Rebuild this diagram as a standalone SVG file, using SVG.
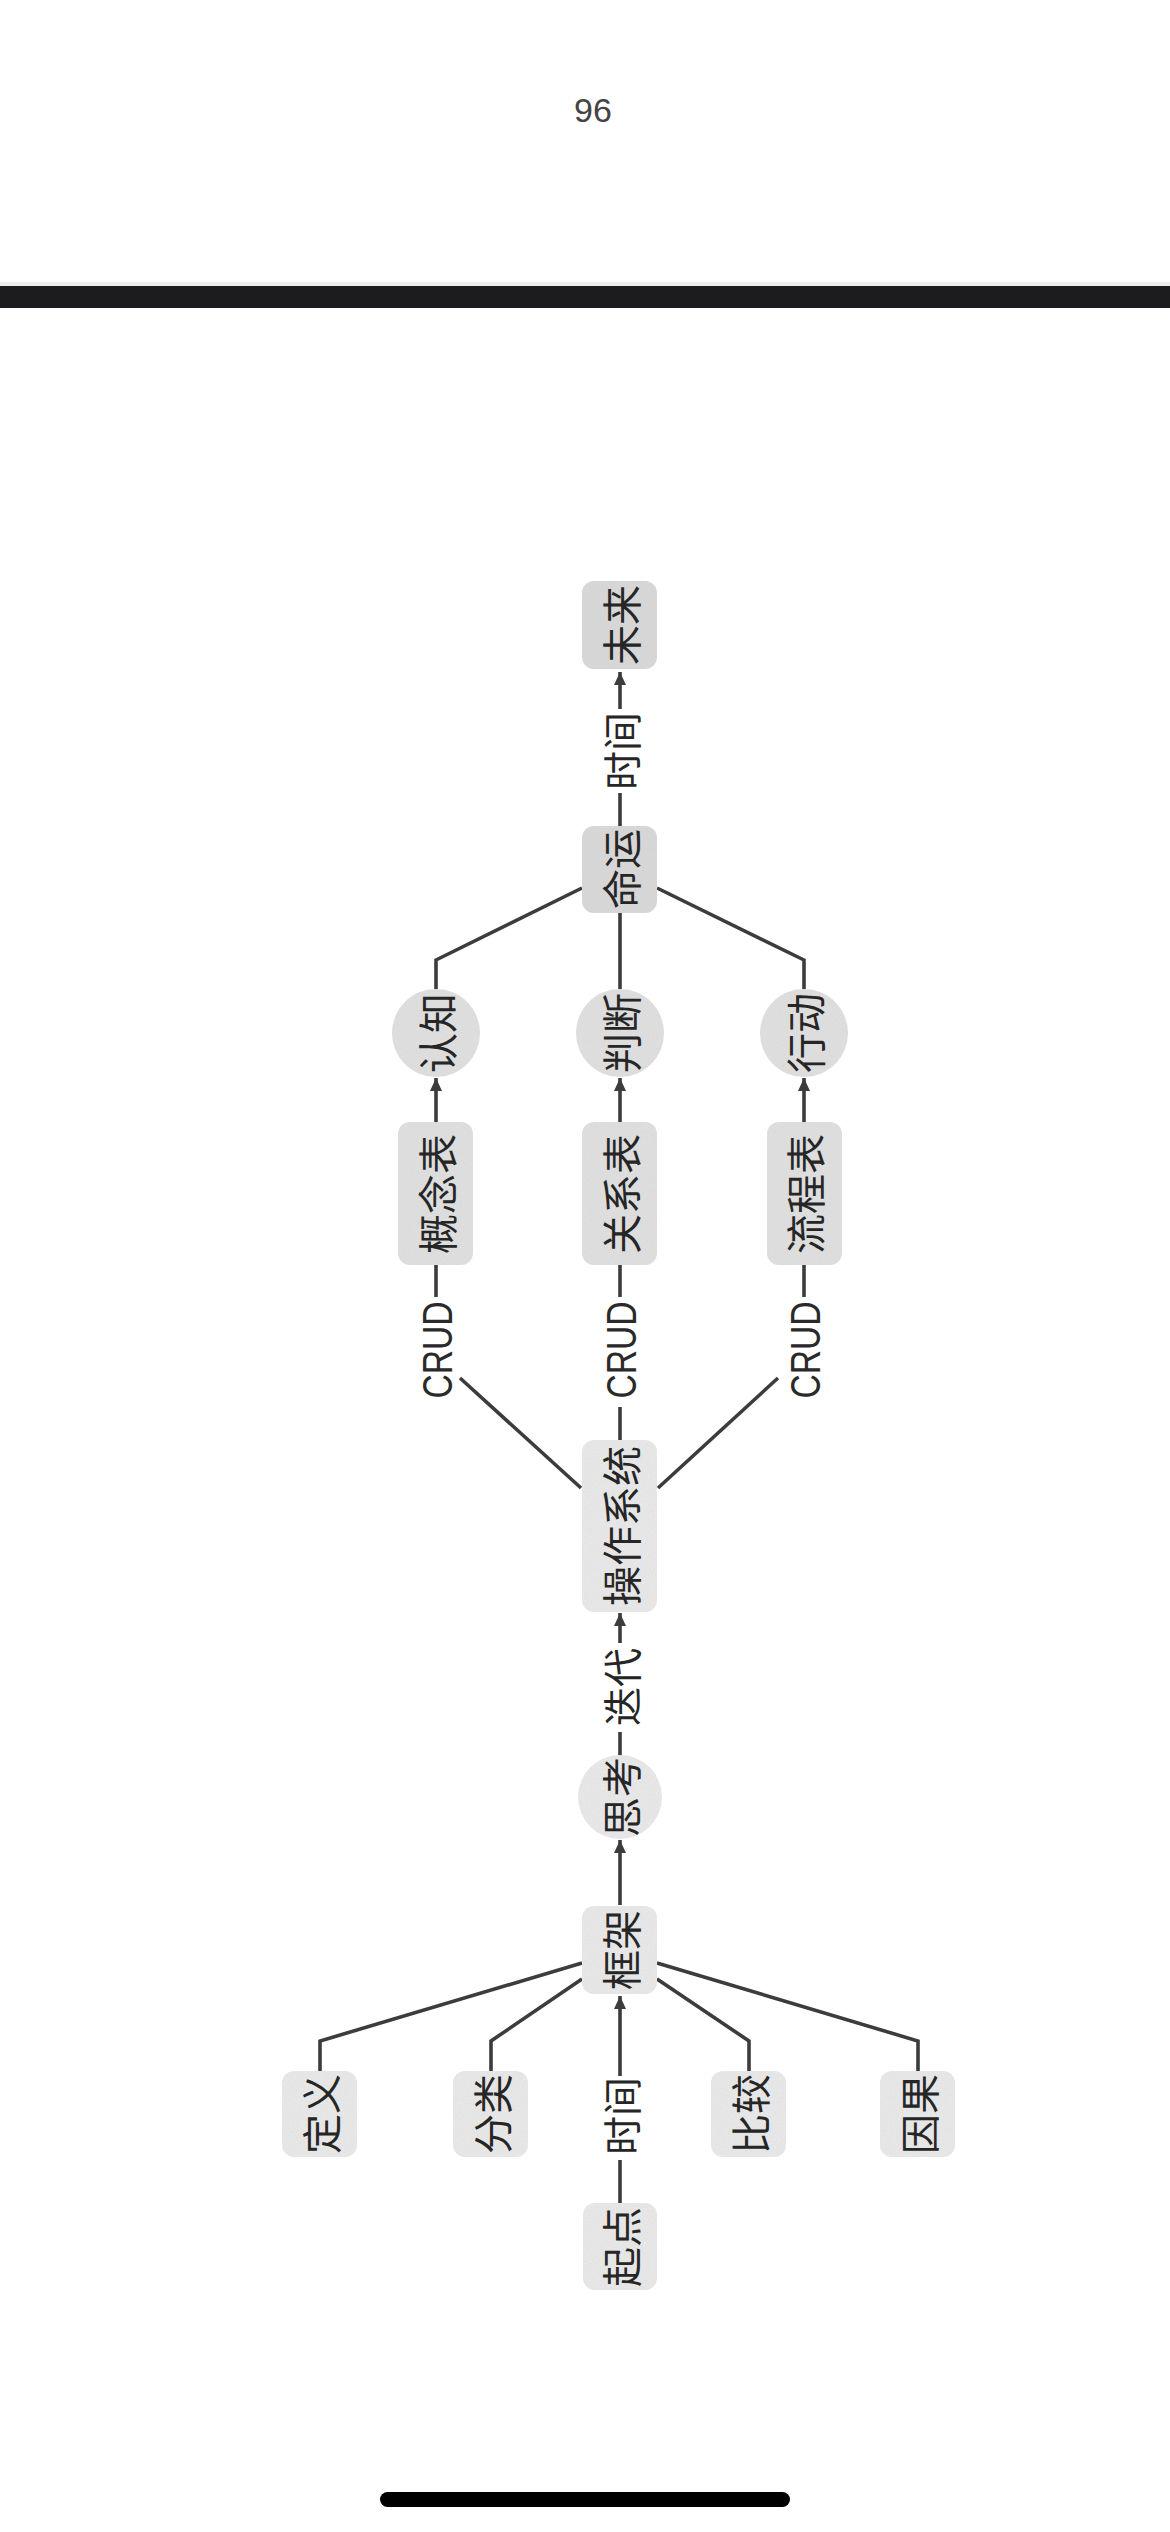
<svg xmlns="http://www.w3.org/2000/svg" width="1170" height="2532" viewBox="0 0 1170 2532">
<defs>
<style>
.t{font-family:"Noto Sans CJK SC","Noto Sans",sans-serif;font-size:40px;fill:#262626;text-anchor:middle;dominant-baseline:central}
.lb{font-family:"Noto Sans CJK SC","Noto Sans",sans-serif;font-size:39px;fill:#262626;text-anchor:middle;dominant-baseline:central}
.crud{font-family:"Liberation Sans",Arial,sans-serif;font-size:42px;fill:#2a2a2a;text-anchor:middle;dominant-baseline:central}
.e{fill:none;stroke:#3c3c3c;stroke-width:3.6;stroke-linejoin:miter}
.d1{fill:#dadada}
.d2{fill:#e2e2e2}
.d3{fill:#ececec}
</style>
<filter id="grain" x="0" y="0" width="100%" height="100%">
<feTurbulence type="fractalNoise" baseFrequency="0.85" numOctaves="2" seed="4" result="n"/>
<feColorMatrix in="n" type="matrix" values="0 0 0 0 0.55 0 0 0 0 0.55 0 0 0 0 0.55 0 0 0 0.35 0" result="g"/>
<feComposite in="g" in2="SourceGraphic" operator="in" result="gi"/>
<feMerge><feMergeNode in="SourceGraphic"/><feMergeNode in="gi"/></feMerge>
</filter>
<marker id="ah" markerUnits="userSpaceOnUse" markerWidth="14" markerHeight="12" refX="13" refY="6" orient="auto">
<path d="M0,0 L13,6 L0,12 z" fill="#3c3c3c"/>
</marker>
</defs>
<rect x="0" y="0" width="1170" height="2532" fill="#ffffff"/>
<text x="593" y="122" style="font-family:'Liberation Sans',Arial,sans-serif;font-size:34px;fill:#444;text-anchor:middle">96</text>
<rect x="0" y="282" width="1170" height="4" fill="#eeeeee"/>
<rect x="0" y="286" width="1170" height="22" fill="#1c1c1e"/>

<g id="connectors">
<path class="e" d="M620,826 L620,793 M620,709 L620,672" marker-end="url(#ah)"/>
<path class="e" d="M436,989 L436,960 L582,888"/>
<path class="e" d="M620,989 L620,913"/>
<path class="e" d="M804,989 L804,960 L657,888"/>
<path class="e" d="M436,1122 L436,1078" marker-end="url(#ah)"/>
<path class="e" d="M620,1122 L620,1078" marker-end="url(#ah)"/>
<path class="e" d="M804,1122 L804,1078" marker-end="url(#ah)"/>
<path class="e" d="M581,1488 L460,1378 M436,1297 L436,1265"/>
<path class="e" d="M620,1440 L620,1407 M620,1297 L620,1265"/>
<path class="e" d="M658,1488 L778,1378 M804,1297 L804,1265"/>
<path class="e" d="M620,1757 L620,1732 M620,1643 L620,1613" marker-end="url(#ah)"/>
<path class="e" d="M620,1905 L620,1840" marker-end="url(#ah)"/>
<path class="e" d="M620,2203 L620,2160 M620,2076 L620,1996" marker-end="url(#ah)"/>
<path class="e" d="M582,1963 L320,2041 L320,2071"/>
<path class="e" d="M582,1979 L491,2041 L491,2071"/>
<path class="e" d="M657,1979 L749,2041 L749,2071"/>
<path class="e" d="M657,1963 L918,2041 L918,2071"/>
<text class="lb" transform="translate(620,751) rotate(-90)">时间</text>
<text class="crud" transform="translate(437,1350) rotate(-90)" textLength="97" lengthAdjust="spacingAndGlyphs">CRUD</text>
<text class="crud" transform="translate(621,1350) rotate(-90)" textLength="97" lengthAdjust="spacingAndGlyphs">CRUD</text>
<text class="crud" transform="translate(805,1350) rotate(-90)" textLength="97" lengthAdjust="spacingAndGlyphs">CRUD</text>
<text class="lb" transform="translate(620,1687) rotate(-90)">迭代</text>
<text class="lb" transform="translate(620,2116) rotate(-90)">时间</text>
</g>

<g id="n-weilai"><rect class="d1" filter="url(#grain)" x="582" y="581" width="75" height="88" rx="12"/><text class="t" transform="translate(620,625) rotate(-90)">未来</text></g>
<g id="n-mingyun"><rect class="d1" filter="url(#grain)" x="582" y="826" width="75" height="87" rx="12"/><text class="t" transform="translate(620,869) rotate(-90)">命运</text></g>
<g id="n-renzhi"><circle class="d2" filter="url(#grain)" cx="436" cy="1033" r="44"/><text class="t" transform="translate(436,1033) rotate(-90)">认知</text></g>
<g id="n-panduan"><circle class="d2" filter="url(#grain)" cx="620" cy="1033" r="44"/><text class="t" transform="translate(620,1033) rotate(-90)">判断</text></g>
<g id="n-xingdong"><circle class="d2" filter="url(#grain)" cx="804" cy="1033" r="44"/><text class="t" transform="translate(804,1033) rotate(-90)">行动</text></g>
<g id="n-gainian"><rect class="d2" filter="url(#grain)" x="398" y="1122" width="75" height="143" rx="12"/><text class="t" transform="translate(436,1194) rotate(-90)">概念表</text></g>
<g id="n-guanxi"><rect class="d2" filter="url(#grain)" x="582" y="1122" width="75" height="143" rx="12"/><text class="t" transform="translate(620,1194) rotate(-90)">关系表</text></g>
<g id="n-liucheng"><rect class="d2" filter="url(#grain)" x="767" y="1122" width="75" height="143" rx="12"/><text class="t" transform="translate(804,1194) rotate(-90)">流程表</text></g>
<g id="n-os"><rect class="d3" filter="url(#grain)" x="582" y="1440" width="75" height="172" rx="12"/><text class="t" transform="translate(620,1526) rotate(-90)">操作系统</text></g>
<g id="n-sikao"><circle class="d3" filter="url(#grain)" cx="620" cy="1797" r="42"/><text class="t" transform="translate(620,1797) rotate(-90)">思考</text></g>
<g id="n-kuangjia"><rect class="d3" filter="url(#grain)" x="582" y="1906" width="75" height="88" rx="12"/><text class="t" transform="translate(620,1950) rotate(-90)">框架</text></g>
<g id="n-dingyi"><rect class="d3" filter="url(#grain)" x="282" y="2071" width="75" height="86" rx="12"/><text class="t" transform="translate(320,2114) rotate(-90)">定义</text></g>
<g id="n-fenlei"><rect class="d3" filter="url(#grain)" x="453" y="2071" width="75" height="86" rx="12"/><text class="t" transform="translate(491,2114) rotate(-90)">分类</text></g>
<g id="n-bijiao"><rect class="d3" filter="url(#grain)" x="711" y="2071" width="75" height="86" rx="12"/><text class="t" transform="translate(749,2114) rotate(-90)">比较</text></g>
<g id="n-yinguo"><rect class="d3" filter="url(#grain)" x="880" y="2071" width="75" height="86" rx="12"/><text class="t" transform="translate(918,2114) rotate(-90)">因果</text></g>
<g id="n-qidian"><rect class="d3" filter="url(#grain)" x="583" y="2203" width="74" height="87" rx="12"/><text class="t" transform="translate(620,2247) rotate(-90)">起点</text></g>

<rect x="380" y="2492" width="410" height="15" rx="7.5" fill="#000000"/>
</svg>
